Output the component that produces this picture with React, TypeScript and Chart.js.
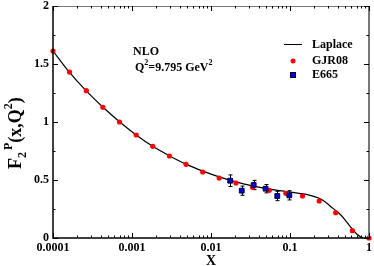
import { useEffect, useRef } from "react";
import { Chart, registerables } from "chart.js";

Chart.register(...registerables);

// ---- data ----
const gjrX = [0.0001, 0.000162, 0.000264, 0.000428, 0.000695, 0.00113, 0.00183, 0.00298, 0.00483, 0.00785, 0.0127, 0.0207, 0.0336, 0.0546, 0.0886, 0.144, 0.234, 0.379, 0.616, 1.0];
const gjrY = [1.612, 1.43, 1.27, 1.127, 1.0, 0.888, 0.79, 0.707, 0.635, 0.569, 0.517, 0.474, 0.437, 0.411, 0.385, 0.362, 0.319, 0.218, 0.063, 0.0];

const e665X = [0.0175, 0.0245, 0.0347, 0.0491, 0.069, 0.098];
const e665Y = [0.494, 0.408, 0.457, 0.425, 0.362, 0.368];
const e665Err = [0.05, 0.04, 0.04, 0.036, 0.04, 0.04];

const laplaceX = [0.0001, 0.00016, 0.00026, 0.00043, 0.0007, 0.00113, 0.00183, 0.003, 0.0048, 0.0079, 0.0127, 0.0207, 0.0336, 0.0546, 0.0886, 0.131, 0.18, 0.234, 0.28, 0.33, 0.418, 0.5, 0.56, 0.63, 0.706, 0.78, 0.85];
const laplaceY = [1.612, 1.432, 1.272, 1.127, 1.0, 0.888, 0.79, 0.707, 0.637, 0.577, 0.527, 0.484, 0.45, 0.422, 0.401, 0.385, 0.368, 0.342, 0.31, 0.27, 0.213, 0.155, 0.112, 0.07, 0.032, 0.01, 0.0];

const xTicks = [0.0001, 0.001, 0.01, 0.1, 1];
const xTickLabels = ["0.0001", "0.001", "0.01", "0.1", "1"];
const yTicks = [0, 0.5, 1, 1.5, 2];
const yTickLabels = ["0", "0.5", "1", "1.5", "2"];

const seriesNames = ["Laplace", "GJR08", "E665"];

const SERIF = "'Liberation Serif', 'Times New Roman', serif";
const RED = "#ff0000";
const BLUE = "#0000d0";

function drawRuns(ctx: CanvasRenderingContext2D, runs: [string, number, number][], x0: number, y0: number) {
  // runs: [text, fontSize, baselineOffset]
  let x = x0;
  for (const [t, size, off] of runs) {
    ctx.font = `bold ${size}px ${SERIF}`;
    ctx.fillText(t, x, y0 + off);
    x += ctx.measureText(t).width;
  }
}

const decor = {
  id: "decor",
  beforeDatasetsDraw(chart: any) {
    const { ctx, scales } = chart;
    const x = scales.x, y = scales.y;
    ctx.save();
    ctx.strokeStyle = "#000";
    ctx.lineWidth = 1;
    e665X.forEach((v, i) => {
      const px = Math.round(x.getPixelForValue(v)) + 0.5;
      const t = y.getPixelForValue(e665Y[i] + e665Err[i]);
      const b = y.getPixelForValue(e665Y[i] - e665Err[i]);
      ctx.beginPath();
      ctx.moveTo(px, t); ctx.lineTo(px, b);
      ctx.moveTo(px - 2, t); ctx.lineTo(px + 2, t);
      ctx.moveTo(px - 2, b); ctx.lineTo(px + 2, b);
      ctx.stroke();
    });
    ctx.restore();
  },
  afterDraw(chart: any) {
    const { ctx, chartArea: a, scales } = chart;
    const x = scales.x, y = scales.y;
    ctx.save();
    // frame
    ctx.strokeStyle = "#777";
    ctx.lineWidth = 1;
    ctx.beginPath(); ctx.moveTo(a.left, a.top + 0.5); ctx.lineTo(a.right, a.top + 0.5); ctx.stroke();
    ctx.lineWidth = 2;
    ctx.beginPath(); ctx.moveTo(a.right, a.top); ctx.lineTo(a.right, a.bottom); ctx.stroke();
    ctx.strokeStyle = "#000";
    ctx.lineWidth = 1.5;
    ctx.beginPath(); ctx.moveTo(a.left, a.top); ctx.lineTo(a.left, a.bottom); ctx.lineTo(a.right + 1, a.bottom); ctx.stroke();

    // ticks (inward, all sides)
    ctx.lineWidth = 1;
    ctx.strokeStyle = "#000";
    ctx.beginPath();
    for (let d = -4; d <= 0; d++) {
      for (let m = 1; m <= 9; m++) {
        const v = m * Math.pow(10, d);
        if (v > 1.0000001) break;
        const px = Math.round(x.getPixelForValue(v)) + 0.5;
        const len = m === 1 ? 5 : 2.5;
        ctx.moveTo(px, a.bottom); ctx.lineTo(px, a.bottom - len);
        ctx.moveTo(px, a.top); ctx.lineTo(px, a.top + len);
      }
    }
    for (let k = 0; k <= 8; k++) {
      const v = k * 0.25;
      const py = Math.round(y.getPixelForValue(v)) + 0.5;
      const len = k % 2 === 0 ? 5 : 2.5;
      ctx.moveTo(a.left, py); ctx.lineTo(a.left + len, py);
      ctx.moveTo(a.right, py); ctx.lineTo(a.right - len, py);
    }
    ctx.stroke();

    ctx.fillStyle = "#000";
    ctx.textBaseline = "alphabetic";
    ctx.textAlign = "left";

    // x title
    ctx.font = `bold 14px ${SERIF}`;
    ctx.textAlign = "center";
    ctx.fillText("X", (a.left + a.right) / 2, 265);
    ctx.textAlign = "left";

    // y title: F_2^P(x,Q^2), rotated
    ctx.save();
    ctx.translate(21, 169);
    ctx.rotate(-Math.PI / 2);
    drawRuns(ctx, [["F", 18, 0], ["2", 12, 5]], 0, 0);
    ctx.font = `bold 18px ${SERIF}`;
    const fw = ctx.measureText("F").width;
    ctx.font = `bold 12px ${SERIF}`;
    const tw = ctx.measureText("2").width;
    drawRuns(ctx, [["P", 12, -9], ["(x,Q", 18, 0], ["2", 12, -9], [")", 18, 0]], fw + tw + 2, 0);
    ctx.restore();

    // annotation
    drawRuns(ctx, [["NLO", 12, 0]], 133, 55);
    drawRuns(ctx, [["Q", 12, 0], ["2", 8, -6], ["=9.795 GeV", 12, 0], ["2", 8, -6]], 135, 71);

    // legend
    ctx.strokeStyle = "#000";
    ctx.lineWidth = 1;
    ctx.beginPath(); ctx.moveTo(284, 44.5); ctx.lineTo(302, 44.5); ctx.stroke();
    ctx.fillStyle = RED;
    ctx.beginPath(); ctx.arc(293, 61, 2.5, 0, Math.PI * 2); ctx.fill();
    ctx.fillStyle = BLUE;
    ctx.strokeStyle = "#000040";
    ctx.fillRect(290.5, 72.5, 5, 5);
    ctx.strokeRect(290.5, 72.5, 5, 5);
    ctx.fillStyle = "#000";
    ctx.font = `bold 12px ${SERIF}`;
    ctx.fillText(seriesNames[0], 312, 48);
    ctx.fillText(seriesNames[1], 312, 64);
    ctx.fillText(seriesNames[2], 312, 78);
    ctx.restore();
  },
};

function zeroPad(s: any) {
  s.paddingTop = 0;
  s.paddingBottom = 0;
  s.paddingLeft = 0;
  s.paddingRight = 0;
}

export default function App() {
  const ref = useRef<HTMLCanvasElement | null>(null);
  useEffect(() => {
    if (!ref.current) return;
    const tickFont = { family: SERIF, size: 12, weight: "bold" as const };
    const chart = new Chart(ref.current, {
      type: "line",
      data: {
        datasets: [
          {
            label: seriesNames[0],
            data: laplaceX.map((v, i) => ({ x: v, y: laplaceY[i] })),
            borderColor: "#000",
            borderWidth: 1.2,
            pointRadius: 0,
            cubicInterpolationMode: "monotone",
            fill: false,
            order: 2,
          },
          {
            label: seriesNames[1],
            type: "scatter",
            data: gjrX.map((v, i) => ({ x: v, y: gjrY[i] })),
            backgroundColor: RED,
            borderColor: RED,
            borderWidth: 0,
            pointRadius: 2.6,
            clip: false,
            order: 1,
          } as any,
          {
            label: seriesNames[2],
            type: "scatter",
            data: e665X.map((v, i) => ({ x: v, y: e665Y[i] })),
            backgroundColor: BLUE,
            borderColor: "#000040",
            borderWidth: 1,
            pointStyle: "rect",
            pointRadius: 3.4,
            clip: false,
            order: 0,
          } as any,
        ],
      },
      options: {
        animation: false,
        responsive: true,
        maintainAspectRatio: false,
        layout: { padding: { top: 6, right: 4, left: 0, bottom: 0 } },
        plugins: { legend: { display: false }, tooltip: { enabled: false } },
        scales: {
          x: {
            type: "logarithmic",
            min: 0.0001,
            max: 1,
            grid: { display: false, drawTicks: false },
            border: { display: false },
            afterBuildTicks: (s: any) => { s.ticks = xTicks.map((v) => ({ value: v })); },
            afterFit: (s: any) => { s.height = 28; zeroPad(s); },
            ticks: {
              autoSkip: false,
              maxRotation: 0,
              padding: 3,
              color: "#000",
              font: tickFont,
              callback: (_v: any, i: number) => xTickLabels[i],
            },
          },
          y: {
            type: "linear",
            min: 0,
            max: 2,
            grid: { display: false, drawTicks: false },
            border: { display: false },
            afterBuildTicks: (s: any) => { s.ticks = yTicks.map((v) => ({ value: v })); },
            afterFit: (s: any) => { s.width = 53; zeroPad(s); },
            ticks: {
              padding: 4,
              color: "#000",
              font: tickFont,
              callback: (_v: any, i: number) => yTickLabels[i],
            },
          },
        },
      } as any,
      plugins: [decor],
    });
    return () => chart.destroy();
  }, []);
  return (
    <div style={{ position: "fixed", left: 0, top: 0, width: 374, height: 266, background: "#fff" }}>
      <canvas ref={ref} />
    </div>
  );
}
